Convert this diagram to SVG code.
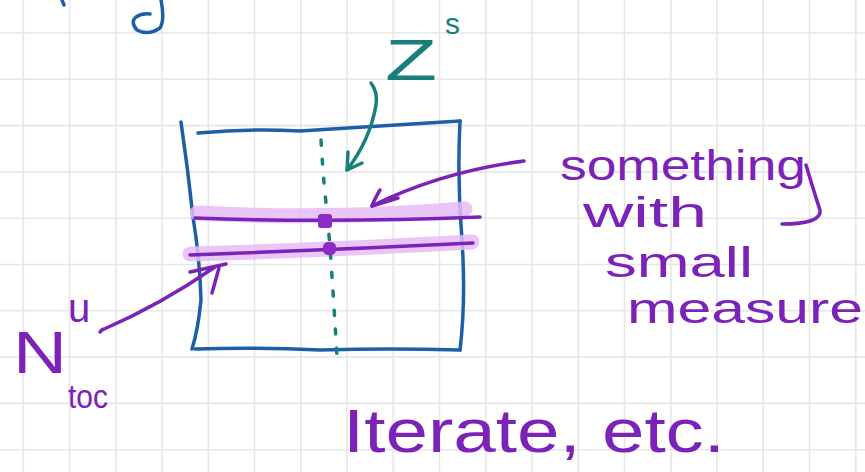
<svg xmlns="http://www.w3.org/2000/svg" width="865" height="472" viewBox="0 0 865 472">
<style>
.grid line{stroke:#e6e6e6;stroke-width:1.6}
.blue{fill:none;stroke:#1c5fa8;stroke-width:3.5;stroke-linecap:round;stroke-linejoin:round}
.teal{fill:none;stroke:#17807a;stroke-width:3.5;stroke-linecap:round;stroke-linejoin:round}
.purple{fill:none;stroke:#7b22b8;stroke-width:3.5;stroke-linecap:round;stroke-linejoin:round}
.hl{fill:none;stroke:#e6bcf7;stroke-width:15;stroke-linecap:round;opacity:0.85}
.tp{fill:#7b22b8;font-family:"Liberation Sans",Arial,sans-serif}
.tt{fill:#17807a;font-family:"Liberation Sans",Arial,sans-serif}
</style>
<rect width="865" height="472" fill="#ffffff"/>
<g class="grid" id="grid">
<line x1="23.3" y1="0" x2="23.3" y2="472"/><line x1="69.5" y1="0" x2="69.5" y2="472"/><line x1="115.8" y1="0" x2="115.8" y2="472"/><line x1="162" y1="0" x2="162" y2="472"/><line x1="208.3" y1="0" x2="208.3" y2="472"/><line x1="254.5" y1="0" x2="254.5" y2="472"/><line x1="300.8" y1="0" x2="300.8" y2="472"/><line x1="347" y1="0" x2="347" y2="472"/><line x1="393.3" y1="0" x2="393.3" y2="472"/><line x1="439.5" y1="0" x2="439.5" y2="472"/><line x1="485.8" y1="0" x2="485.8" y2="472"/><line x1="532" y1="0" x2="532" y2="472"/><line x1="578.3" y1="0" x2="578.3" y2="472"/><line x1="624.5" y1="0" x2="624.5" y2="472"/><line x1="670.8" y1="0" x2="670.8" y2="472"/><line x1="717" y1="0" x2="717" y2="472"/><line x1="763.3" y1="0" x2="763.3" y2="472"/><line x1="809.5" y1="0" x2="809.5" y2="472"/><line x1="855.8" y1="0" x2="855.8" y2="472"/>
<line x1="0" y1="33" x2="865" y2="33"/><line x1="0" y1="79.3" x2="865" y2="79.3"/><line x1="0" y1="125.6" x2="865" y2="125.6"/><line x1="0" y1="171.9" x2="865" y2="171.9"/><line x1="0" y1="218.2" x2="865" y2="218.2"/><line x1="0" y1="264.5" x2="865" y2="264.5"/><line x1="0" y1="310.8" x2="865" y2="310.8"/><line x1="0" y1="357.1" x2="865" y2="357.1"/><line x1="0" y1="403.4" x2="865" y2="403.4"/><line x1="0" y1="449.7" x2="865" y2="449.7"/>
</g>
<g id="top-fragment">
<path class="blue" d="M161,0 Q165,20 160,28 Q148,36 137,30 Q130,22 136,17 Q142,13 150,14"/>
<path class="blue" d="M62,0 L64,5"/>
</g>
<g id="box">
<path class="blue" d="M181,122 Q188,170 193,217 Q200,260 201,300 Q198,330 192,349"/>
<path class="blue" d="M198,133 Q250,128 300,131 Q380,126 460,121"/>
<path class="blue" d="M460,121 Q457,180 462,240 Q466,300 460,350"/>
<path class="blue" d="M195,349 Q260,347 320,350 Q390,348 460,350"/>
</g>
<g id="highlights">
<path class="hl" d="M197,213 Q330,220 465,209"/>
<path class="hl" d="M190,254 Q330,250 472,242"/>
</g>
<g id="measure-lines">
<path class="purple" d="M195,218 Q330,223 480,217"/>
<path class="purple" d="M190,255 Q330,250 473,243"/>
</g>
<g id="zs-line">
<path class="teal" stroke-width="5" stroke-dasharray="5 14" d="M321,140 Q324,190 327,210 Q332,270 337,357"/>
</g>
<g id="points">
<rect x="318" y="214" width="14" height="14" rx="3" fill="#8a2bc4"/>
<rect x="323" y="242" width="13" height="13" rx="5" fill="#8a2bc4"/>
</g>
<g id="connectors">
<path class="teal" d="M371,83 Q378,92 376,105 Q370,140 347,170"/>
<path class="teal" d="M348,152 L347,170 L362,163"/>
<path class="purple" d="M524,161 Q440,172 372,206"/>
<path class="purple" d="M380,190 Q374,200 372,206 L398,198"/>
<path class="purple" d="M100,332 Q104,328 102,330 Q160,305 215,267"/>
<path class="purple" d="M190,272 L226,264 M212,293 L219,268"/>
<path class="purple" d="M806,165 Q815,195 820,210 Q822,224 782,224"/>
</g>
<g id="label-zs">
<text class="tt" x="385" y="80" font-size="58" textLength="52" lengthAdjust="spacingAndGlyphs">Z</text>
<text class="tt" x="445" y="34" font-size="30">s</text>
</g>
<g id="label-something">
<text class="tp" x="560" y="180" font-size="43" textLength="246" lengthAdjust="spacingAndGlyphs">something</text>
<text class="tp" x="583" y="227" font-size="43" textLength="124" lengthAdjust="spacingAndGlyphs">with</text>
<text class="tp" x="605" y="277" font-size="43" textLength="148" lengthAdjust="spacingAndGlyphs">small</text>
<text class="tp" x="627" y="323" font-size="43" textLength="236" lengthAdjust="spacingAndGlyphs">measure</text>
</g>
<g id="label-n">
<text class="tp" x="13" y="373" font-size="60" textLength="54" lengthAdjust="spacingAndGlyphs">N</text>
<text class="tp" x="68" y="322" font-size="40">u</text>
<text class="tp" x="68" y="408" font-size="34" textLength="40" lengthAdjust="spacingAndGlyphs">toc</text>
</g>
<g id="label-iterate">
<text class="tp" x="343" y="452" font-size="62" textLength="382" lengthAdjust="spacingAndGlyphs">Iterate, etc.</text>
</g>
</svg>
